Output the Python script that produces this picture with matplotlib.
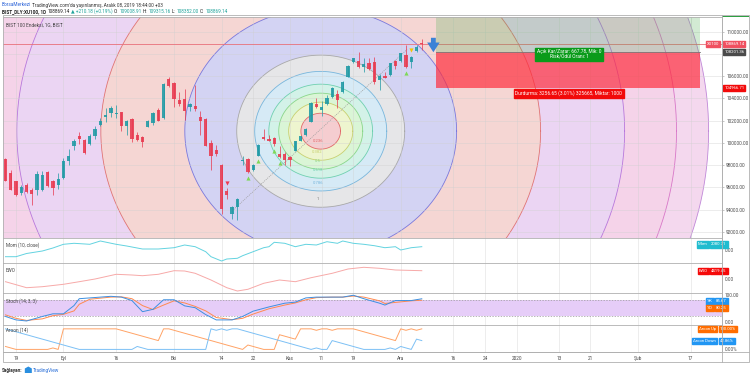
import numpy as np
import matplotlib
matplotlib.use('Agg')
import matplotlib.pyplot as plt
from matplotlib.patches import Rectangle, Polygon
import matplotlib.transforms as mtransforms

plt.rcParams['font.family'] = ['Roboto', 'DejaVu Sans']

# ---------------- data ----------------
bar_idx = list(range(-2, 78))
opens = [98582, 97266, 96549, 95502, 96220, 95801, 95741, 95741, 97386, 96549,
         96190, 96818, 98372, 99688, 100645, 100226, 99897, 100645, 101632, 102349,
         102708, 102558, 102738, 101482, 102140, 100705, 100495, 101422, 101781, 102977,
         102229, 105758, 105369, 103874, 103934, 103216, 103336, 102319, 102170, 99987,
         99329, 98043, 95651, 93558, 94216, 98402, 98551, 97595, 98850, 100495,
         100375, 100435, 98990, 98990, 98731, 99299, 100196, 100734, 101870, 103515,
         102976, 103515, 104113, 104382, 104531, 105966, 107252, 107372, 106863, 107162,
         107252, 105608, 106026, 106116, 107372, 107372, 107910, 107312, 108269, 109008.91]
highs = [98642, 97595, 96608, 96249, 96399, 95950, 97446, 97505, 97446, 96698,
         97296, 98642, 99449, 100346, 100944, 100346, 100794, 101542, 102229, 103127,
         103276, 103366, 102798, 102080, 102200, 100974, 100645, 102080, 102738, 103097,
         105369, 105907, 105429, 104532, 104831, 103575, 105220, 102828, 102229, 100286,
         99837, 98103, 95950, 94306, 95053, 98791, 98641, 98103, 99897, 101272,
         100734, 100495, 99687, 99179, 98791, 100196, 100645, 101332, 103634, 104023,
         103784, 104262, 105010, 104771, 105518, 107013, 107671, 108149, 107611, 107611,
         107761, 106176, 106415, 107222, 107461, 108119, 108807, 107820, 108807, 109315.16]
lows = [96549, 95741, 95203, 95353, 95502, 94366, 95293, 95652, 96041, 95293,
        95861, 96758, 98043, 99389, 99927, 99030, 99837, 100376, 101482, 101841,
        102319, 102229, 101034, 100675, 100077, 100137, 99598, 101392, 101632, 101931,
        102170, 105010, 103216, 103336, 102080, 102887, 102828, 100734, 99688, 97595,
        98851, 93558, 94904, 93110, 93020, 98043, 97296, 97445, 98791, 100286,
        100136, 99687, 98641, 98043, 97893, 99239, 100136, 100585, 101840, 103126,
        102378, 103425, 104023, 103126, 104471, 105907, 107163, 106714, 106355, 106564,
        105309, 104770, 105817, 106056, 106654, 107312, 106774, 106774, 108209, 108352.00]
closes = [96608, 95801, 95323, 96041, 95562, 95442, 97206, 97147, 96100, 95950,
          96758, 98402, 98851, 100136, 100346, 99060, 100645, 101273, 101990, 102469,
          103127, 102678, 101542, 101990, 100346, 100286, 100047, 101930, 102678, 101990,
          105249, 105070, 103934, 103515, 102828, 103515, 103067, 101931, 99688, 98791,
          99030, 94007, 95292, 94216, 94993, 98491, 97355, 97983, 99837, 100375,
          100196, 99897, 98761, 98491, 98491, 100136, 100585, 101242, 103575, 103186,
          103186, 104023, 104920, 103814, 105428, 106924, 107611, 106863, 107073, 106624,
          105428, 106056, 105877, 107162, 106953, 108059, 106834, 107760, 108659, 108869.14]

up_signal_idx = [44, 46, 49, 50, 74]
down_signal_idx = [40]
warn_signal_idx = [75]

price_ticks = [92000, 94000, 96000, 98000, 100000, 102000, 104000, 106000, 108000, 110000]
price_tick_hidden = [108000]
date_tick_idx = [0, 9, 19, 30, 39, 45, 52, 58, 64, 73, 83, 89, 95, 103, 109, 118, 128]
date_tick_lbl = ['19', 'Eyl', '16', 'Eki', '14', '22', 'Kas', '11', '19', 'Ara',
                 '16', '24', '2020', '13', '21', 'Şub', '17']

fib_levels = [0.236, 0.382, 0.5, 0.618, 0.786, 1.0, 1.618, 2.618, 3.618, 4.236, 4.618]
fib_line_colors = ['#e06a6a', '#c8d070', '#8ad68a', '#6fd0b0', '#78b6dc', '#a8a8a8',
                   '#7a78dc', '#e07474', '#b878dc', '#d878c8', '#c088d8']
fib_fill_colors = ['#f5cdd0', '#eef5cf', '#daf5d6', '#d3f2e8', '#d6eaf6', '#e6e6e8',
                   '#d3d3f3', '#f5d6d3', '#ebd5f3', '#f5d3e9', '#f4d8ee']
fib_label_levels = ['0.236', '0.382', '0.5', '0.618', '0.786', '1']

last_price = 108869.14
entry_price = 108201.36
stop_price = 104966.71
target_price = 111458.01

mom_idx = [-2, 0, 2, 5, 7, 9, 11, 14, 16, 19, 21, 24, 27, 30, 32, 34, 36, 37, 39, 40,
           42, 43, 45, 47, 48, 49, 51, 53, 55, 57, 59, 61, 62, 64, 66, 68, 70, 72, 73, 75, 77]
mom_val = [-3395, -3395, -1643, -274, 1369, 3395, 3943, 3395, 5202, 3395, 2464, 821, 821,
           1533, 3012, 2081, -657, -3395, -5750, -4655, -4271, -2848, -657, 1533, 2081,
           4490, 3943, 2081, 3395, 3012, 4819, 3943, 5202, 3943, 3395, 2630, 1533, 2081,
           274, 1533, 2080.71]

ewo_idx = [-2, 2, 5, 9, 12, 15, 19, 22, 24, 27, 30, 32, 34, 37, 40, 42, 44, 47, 50,
           53, 56, 60, 63, 66, 69, 72, 77]
ewo_val = [-1436, -4628, -4096, -2820, -1436, 0, 2500, 2128, 1756, 2500, 4416, 4256,
           3032, -532, -4628, -6384, -5480, -2288, -532, -1436, 692, 3032, 5320, 6224,
           5692, 4788, 4419.45]

stoch_idx = [-2, 0, 2, 5, 7, 9, 11, 12, 14, 18, 20, 22, 24, 26, 28, 30, 32, 34, 36,
             38, 41, 43, 45, 48, 51, 53, 55, 57, 60, 62, 64, 66, 69, 70, 72, 75, 77]
stoch_k = [19, 6, 2, 19, 29, 29, 60, 86, 89, 95, 92, 79, 37, 46, 82, 82, 59, 52, 26,
           6, 6, 19, 39, 55, 69, 73, 89, 92, 92, 92, 99, 86, 69, 62, 79, 79, 85.67]
stoch_d = [25, 12, 4, 10, 22, 27, 40, 65, 84, 92, 93, 86, 60, 45, 62, 78, 70, 57, 40,
           15, 7, 12, 28, 48, 62, 70, 82, 90, 92, 92, 96, 92, 78, 68, 72, 78, 80.25]

aroon_up = [14.3, 7.1, 0, 0, 0, 0, 0, 0, 0, 7.1, 0, 100, 100, 100, 100, 100, 100, 100, 100, 100,
            100, 100, 92.9, 85.7, 78.6, 71.4, 64.3, 57.1, 50, 42.9, 100, 100, 92.9, 85.7, 78.6,
            71.4, 64.3, 57.1, 50, 42.9, 35.7, 28.6, 21.4, 14.3, 7.1, 0, 21.4, 14.3, 7.1, 0,
            0, 0, 71.4, 64.3, 57.1, 50, 100, 100, 100, 92.9, 100, 100, 92.9, 100, 100, 100,
            100, 92.9, 85.7, 78.6, 71.4, 64.3, 57.1, 50, 42.9, 100, 92.9, 100, 92.9, 100]
aroon_down = [100, 92.9, 85.7, 78.6, 71.4, 64.3, 57.1, 50, 42.9, 35.7, 28.6, 21.4, 14.3, 7.1,
              0, 0, 0, 0, 0, 0, 0, 0, 0, 0, 0, 14.3, 7.1, 0, 0, 0,
              0, 0, 0, 0, 0, 0, 0, 0, 0, 100, 92.9, 100, 92.9, 100, 100, 92.9, 85.7, 78.6, 71.4, 64.3,
              57.1, 50, 42.9, 35.7, 28.6, 21.4, 14.3, 7.1, 0, 7.1, 0, 0, 42.9, 35.7, 28.6, 21.4,
              14.3, 7.1, 0, 0, 0, 0, 0, 7.1, 0, 14.3, 7.1, 0, 50, 42.86]

# ---------------- layout ----------------
W, H = 750, 377
fig = plt.figure(figsize=(W / 100, H / 100), dpi=100)
fig.patch.set_facecolor('white')

def fa(x0, y0, x1, y1):
    return [x0 / W, 1 - y1 / H, (x1 - x0) / W, (y1 - y0) / H]

XL, XR = 3, 722
ax = fig.add_axes(fa(XL, 17, XR, 238))
ax_mom = fig.add_axes(fa(XL, 238, XR, 263), sharex=ax)
ax_ewo = fig.add_axes(fa(XL, 263, XR, 293), sharex=ax)
ax_st = fig.add_axes(fa(XL, 293, XR, 325), sharex=ax)
ax_ar = fig.add_axes(fa(XL, 325, XR, 352), sharex=ax)
axes = [ax, ax_mom, ax_ewo, ax_st, ax_ar]

xmin, xmax = -2.47, 133.97
ax.set_xlim(xmin, xmax)
ax.set_ylim(91440, 111320)

TXT = '#4a4a4a'
GRID = '#e6e6e6'
FS = 3.4
TAGFS = 3.1

for a in axes:
    a.set_facecolor('white')
    for s in a.spines.values():
        s.set_color('#b0b0b0')
        s.set_linewidth(0.6)
    a.spines['left'].set_visible(False)
    a.tick_params(axis='both', length=0, labelsize=FS, colors=TXT, pad=2)
    a.yaxis.tick_right()
    a.set_xticks(date_tick_idx)
    a.tick_params(axis='x', labelbottom=False)
    for xv in date_tick_idx:
        a.axvline(xv, color=GRID, lw=0.5, zorder=0.2)

# ---------------- fib circles ----------------
cx_bar, cy_price = 57.82, 101049
rx_bar, ry_price = 15.94, 6843
t = np.linspace(0, 2 * np.pi, 500)
for lev, fc in reversed(list(zip(fib_levels, fib_fill_colors))):
    ax.fill(cx_bar + rx_bar * lev * np.cos(t), cy_price + ry_price * lev * np.sin(t),
            color=fc, lw=0, zorder=0.5)
for lev, lc in zip(fib_levels, fib_line_colors):
    ax.plot(cx_bar + rx_bar * lev * np.cos(t), cy_price + ry_price * lev * np.sin(t),
            color=lc, lw=0.6, zorder=0.7)
for lbl, lev, lc in zip(fib_label_levels, fib_levels, fib_line_colors):
    ax.text(cx_bar - 0.6, cy_price - ry_price * lev + 700, lbl, fontsize=3.0,
            color=lc if lev != 1 else '#777777', ha='center', va='center', zorder=3)
ax.plot([41.3, 74.2], [94000, 108400], color='#9a9a9a', lw=0.5, ls=(0, (1.5, 1.5)), zorder=0.8)

for p in price_ticks:
    ax.axhline(p, color='#d0d0d0', lw=0.5, alpha=0.55, zorder=0.9)
for xv in date_tick_idx:
    ax.axvline(xv, color='#d0d0d0', lw=0.5, alpha=0.55, zorder=0.9)

# ---------------- candles ----------------
UP, DN = '#1f9aa5', '#e8394f'
o = np.array(opens); c = np.array(closes); h = np.array(highs); l = np.array(lows)
xi = np.array(bar_idx)
cols = [UP if cc >= oo else DN for oo, cc in zip(o, c)]
ax.vlines(xi, l, h, colors=cols, lw=0.6, zorder=2, alpha=0.85)
body_lo = np.minimum(o, c)
body_h = np.maximum(np.abs(c - o), 60)
ax.bar(xi, body_h, bottom=body_lo, width=0.62, color=cols, lw=0, zorder=2.1, alpha=0.88)

ax.scatter(up_signal_idx, [lows[bar_idx.index(i)] - 450 for i in up_signal_idx],
           marker='^', s=9, color='#7ed957', lw=0, zorder=3)
ax.scatter(down_signal_idx, [highs[bar_idx.index(i)] + 480 for i in down_signal_idx],
           marker='v', s=9, color='#f0384f', lw=0, zorder=3)
ax.scatter(warn_signal_idx, [highs[bar_idx.index(i)] + 520 for i in warn_signal_idx],
           marker='v', s=9, color='#f5c400', lw=0, zorder=3)

ax.axhline(last_price, color='#e8707a', lw=0.6, zorder=1.5)

# ---------------- position tool ----------------
px0, px1 = 79.7, 129.8
ax.add_patch(Rectangle((px0, entry_price), px1 - px0, target_price - entry_price,
                       facecolor='#4caf50', alpha=0.25, lw=0, zorder=2.5))
ax.add_patch(Rectangle((px0, stop_price), px1 - px0, entry_price - stop_price,
                       facecolor='#ff2a3a', alpha=0.68, lw=0, zorder=2.5))
ax.plot([px0, px1], [entry_price, entry_price], color='#7a7a7a', lw=0.6, zorder=2.6)
ax.text(105.0, entry_price - 250, 'Açık Kar/Zarar: 667.78, Mik: 0\nRisk/Ödül Oranı: 1',
        fontsize=3.5, color='white', ha='center', va='center', linespacing=1.0, zorder=4,
        bbox=dict(boxstyle='square,pad=0.35', fc='#0a9b1a', ec='#0a9b1a'))
ax.text(104.9, stop_price - 520, 'Durdurma: 3256.65 (3.01%) 325665, Miktar: 1000',
        fontsize=3.5, color='white', ha='center', va='center', zorder=4,
        bbox=dict(boxstyle='square,pad=0.35', fc='#f20a0a', ec='#f20a0a'))

ax.annotate('', xy=(79.2, 107900), xytext=(79.2, 109700),
            arrowprops=dict(arrowstyle='simple,head_width=0.9,head_length=0.7,tail_width=0.35',
                            color='#3b82d6', lw=0), zorder=4)

ax.text(0.004, 0.975, 'BIST 100 Endeksi, 1G, BIST', transform=ax.transAxes, fontsize=3.4,
        color='#444', va='top', ha='left', zorder=5)

ax.set_yticks(price_ticks)
ax.set_yticklabels(['' if p in price_tick_hidden else f'{p:.2f}' for p in price_ticks])
ax.tick_params(axis='y', length=1.5, width=0.4, color='#999', pad=1.5)

def price_tag(a, y, text, fc, x=1.003, tc='white', ha='left'):
    tr = mtransforms.blended_transform_factory(a.transAxes, a.transData)
    a.text(x, y, text, transform=tr, fontsize=TAGFS, color=tc, ha=ha, va='center',
           zorder=6, clip_on=False, bbox=dict(boxstyle='square,pad=0.25', fc=fc, ec=fc))

price_tag(ax, last_price, f'{last_price:.2f}', '#f05060')
price_tag(ax, last_price, 'XU100', '#f05060', x=0.996, ha='right')
price_tag(ax, entry_price, f'{entry_price:.2f}', '#4a4a4a')
price_tag(ax, stop_price, f'{stop_price:.2f}', '#f20a0a')
ax.add_patch(Rectangle((1.0, 1.0), 0.037, 0.006, transform=ax.transAxes, fc='#2ea043',
                       ec='none', clip_on=False, zorder=6))

# ---------------- Mom ----------------
ax_mom.plot(mom_idx, mom_val, color='#63d3e0', lw=0.7)
ax_mom.set_ylim(-6845, 6845)
ax_mom.set_yticks([0])
ax_mom.set_yticklabels(['0.00'])
ax_mom.text(0.004, 0.85, 'Mom (10, close)', transform=ax_mom.transAxes, fontsize=3.3, color='#444', va='top')
price_tag(ax_mom, 3300, '2080.71', '#20bccf', x=0.985)
price_tag(ax_mom, 3300, 'Mom', '#20bccf', x=0.980, ha='right')

# ---------------- EWO ----------------
ax_ewo.plot(ewo_idx, ewo_val, color='#f7a9a8', lw=0.7)
ax_ewo.set_ylim(-7448, 8512)
ax_ewo.set_yticks([0])
ax_ewo.set_yticklabels(['0.00'])
ax_ewo.text(0.004, 0.85, 'EWO', transform=ax_ewo.transAxes, fontsize=3.3, color='#444', va='top')
price_tag(ax_ewo, 4419.45, '4419.45', '#f50a0a', x=0.985)
price_tag(ax_ewo, 4419.45, 'EWO', '#f50a0a', x=0.980, ha='right')

# ---------------- Stoch ----------------
ax_st.set_ylim(-13.2, 107.5)
ax_st.axhspan(20, 80, color='#e6cdf8', lw=0, zorder=0.3)
ax_st.axhline(80, color='#9a9a9a', lw=0.5, ls=(0, (2, 2)))
ax_st.axhline(20, color='#9a9a9a', lw=0.5, ls=(0, (2, 2)))
ax_st.plot(stoch_idx, stoch_d, color='#ff8a50', lw=0.7)
ax_st.plot(stoch_idx, stoch_k, color='#3d8fe0', lw=0.7)
ax_st.set_yticks([0, 100])
ax_st.set_yticklabels(['0.00', '100.00'])
ax_st.text(0.004, 0.85, 'Stoch (14, 3, 3)', transform=ax_st.transAxes, fontsize=3.3, color='#444', va='top')
price_tag(ax_st, 75.5, '85.67', '#2196f3', x=0.992)
price_tag(ax_st, 75.5, '%K', '#2196f3', x=0.987, ha='right')
price_tag(ax_st, 51, '80.25', '#ff6d00', x=0.992)
price_tag(ax_st, 51, '%D', '#ff6d00', x=0.987, ha='right')

# ---------------- Aroon ----------------
ax_ar.set_ylim(-12.6, 118.7)
ax_ar.plot(bar_idx, aroon_up, color='#ffa366', lw=0.7)
ax_ar.plot(bar_idx, aroon_down, color='#7cc0f5', lw=0.7)
ax_ar.set_yticks([0])
ax_ar.set_yticklabels(['0.00%'])
ax_ar.text(0.004, 0.9, 'Aroon (14)', transform=ax_ar.transAxes, fontsize=3.3, color='#444', va='top')
price_tag(ax_ar, 100, '100.00%', '#ff6d00', x=0.997)
price_tag(ax_ar, 100, 'Aroon Up', '#ff6d00', x=0.992, ha='right')
price_tag(ax_ar, 42.86, '42.86%', '#2196f3', x=0.997)
price_tag(ax_ar, 42.86, 'Aroon Down', '#2196f3', x=0.992, ha='right')

ax_ar.tick_params(axis='x', labelbottom=True, labelsize=FS, colors=TXT, pad=3)
ax_ar.set_xticklabels(date_tick_lbl)
ax_ar.set_xlim(xmin, xmax)

fig.add_artist(Rectangle((XL / W, 1 - 362 / H), (749 - XL) / W, (362 - 15) / H,
                         transform=fig.transFigure, fill=False, ec='#b0b0b0', lw=0.6))
fig.add_artist(plt.Line2D([XR / W, XR / W], [1 - 362 / H, 1 - 15 / H],
                          transform=fig.transFigure, color='#b0b0b0', lw=0.6))
fig.add_artist(plt.Line2D([XL / W, 749 / W], [1 - 352 / H, 1 - 352 / H],
                          transform=fig.transFigure, color='#b0b0b0', lw=0.6))

# ---------------- header / footer (sequential placement) ----------------
fig.canvas.draw()
renderer = fig.canvas.get_renderer()

def text_run(x_px, y_px, pieces, fs=3.4, gap=1.2):
    x = x_px
    for s, col, wt in pieces:
        tx = fig.text(x / W, 1 - y_px / H, s, va='center', ha='left', fontsize=fs,
                      color=col, fontweight=wt)
        bb = tx.get_window_extent(renderer=renderer)
        x = bb.x1 + gap
    return x

DARK = '#333333'
GREEN = '#1fa39a'
text_run(2, 5, [('BorsaMerkezi', '#2a62d8', 'normal'),
                ("TradingView.com'da yayınlanmış, Aralık 08, 2019 18:44:00 +03", DARK, 'normal')])
text_run(2, 11.5, [('BIST_DLY:XU100, 1D', '#222', 'bold'),
                   ('108869.14', '#222', 'normal'),
                   ('▲ +210.18 (+0.19%)', GREEN, 'normal'),
                   ('O:', '#222', 'normal'), ('109008.91', GREEN, 'normal'),
                   ('H:', '#222', 'normal'), ('109315.16', GREEN, 'normal'),
                   ('L:', '#222', 'normal'), ('108352.00', GREEN, 'normal'),
                   ('C:', '#222', 'normal'), ('108869.14', GREEN, 'normal')])

xend = text_run(2, 370.5, [('Sağlayan:', DARK, 'bold')])
fig.add_artist(Polygon([[(xend + 1) / W, 1 - 373 / H], [(xend + 8) / W, 1 - 373 / H],
                        [(xend + 8) / W, 1 - 368.5 / H], [(xend + 4.5) / W, 1 - 366.5 / H],
                        [(xend + 1) / W, 1 - 368.5 / H]],
                       closed=True, transform=fig.transFigure, fc='#2a8fe0', ec='none'))
text_run(xend + 9.5, 370.5, [('TradingView', '#2a6fd8', 'normal')])

fig.savefig('out.png', dpi=100, facecolor='white')
